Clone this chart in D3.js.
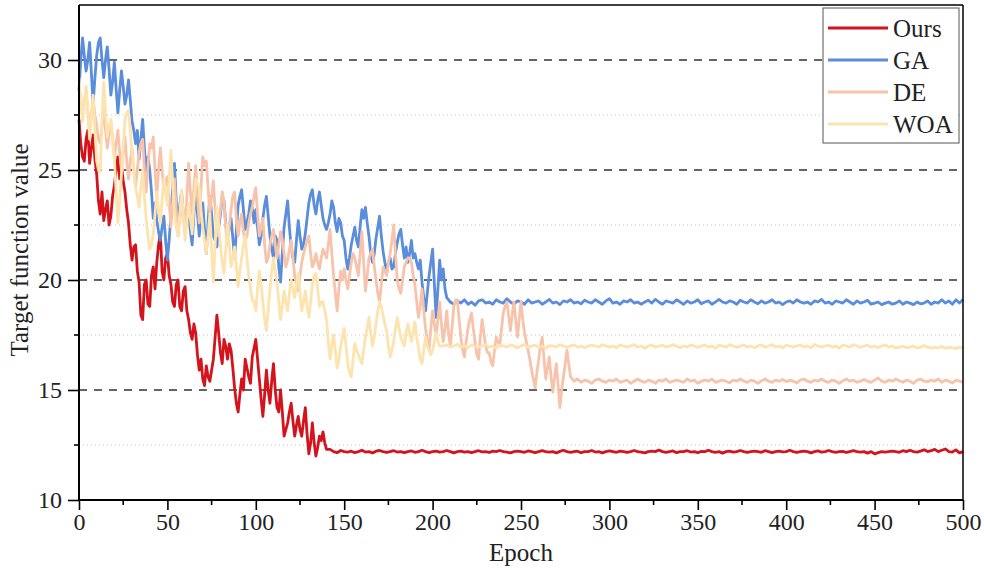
<!DOCTYPE html>
<meta charset="utf-8">
<script src="https://cdn.jsdelivr.net/npm/d3@7"></script>
<style>
  body { margin: 0; background: #fff; }
  text { font-family: "Liberation Serif", "Times New Roman", serif; fill: #222; }
</style>
<body>
<div id="chart"></div>
<script>

// values.
// the noisy part of each run is read every epoch (starting at epoch 0),
// the converged tail every 2 epochs after that, up to epoch 500
var seriesNames = ["Ours", "GA", "DE", "WOA"]
var seriesColors = ["#d4141c", "#5a8ddc", "#f7c3ab", "#fde3ae"]

var oursHead = [27.3,26.2,25.6,25.4,26.4,26.8,25.3,26.0,26.6,25.5,
  24.8,23.6,23.0,24.0,22.7,23.2,23.6,22.5,22.9,23.8,
  24.3,25.0,25.6,24.6,25.2,24.5,24.0,23.2,22.6,21.6,
  20.9,21.5,21.6,20.4,19.9,18.4,18.2,19.8,20.0,18.9,
  18.8,20.2,20.6,19.6,20.8,21.6,22.1,20.4,20.0,21.0,
  21.2,20.2,19.8,19.0,18.8,19.8,20.0,18.8,18.6,19.5,
  19.7,18.6,18.2,17.6,17.3,18.0,17.6,16.6,15.9,16.4,
  15.5,15.2,16.1,15.6,15.4,15.9,16.4,17.4,18.4,17.6,
  16.7,16.2,17.3,17.0,16.4,17.1,16.8,16.0,15.1,14.4,
  14.0,14.8,15.5,15.0,16.4,16.0,15.6,15.3,16.5,16.9,
  17.3,16.4,15.5,14.6,13.8,14.8,15.9,15.0,14.4,15.4,
  16.2,15.0,14.2,14.0,15.0,14.0,12.9,13.2,13.5,14.0,
  14.4,13.6,12.9,13.4,13.8,13.2,12.9,13.6,14.2,13.0,
  12.1,12.6,13.5,12.6,12.0,12.4,12.9,12.7,13.1,12.6,
  12.3]
var oursTail = [12.3,12.2,12.15,12.25,12.2,12.18,12.22,12.15,12.2,12.26,
  12.18,12.2,12.14,12.22,12.25,12.2,12.16,12.2,12.24,12.18,
  12.2,12.15,12.2,12.23,12.17,12.2,12.26,12.2,12.15,12.2,
  12.22,12.18,12.2,12.25,12.2,12.14,12.2,12.22,12.18,12.2,
  12.15,12.2,12.24,12.19,12.2,12.16,12.22,12.2,12.25,12.2,
  12.18,12.14,12.2,12.22,12.2,12.17,12.23,12.2,12.15,12.2,
  12.24,12.2,12.18,12.2,12.14,12.21,12.26,12.2,12.17,12.2,
  12.22,12.15,12.2,12.2,12.25,12.18,12.2,12.14,12.2,12.23,
  12.2,12.17,12.22,12.2,12.16,12.2,12.25,12.2,12.18,12.14,
  12.2,12.22,12.2,12.27,12.2,12.17,12.2,12.23,12.15,12.2,
  12.2,12.24,12.18,12.2,12.15,12.21,12.2,12.26,12.2,12.17,
  12.2,12.13,12.2,12.22,12.18,12.2,12.25,12.2,12.16,12.2,
  12.22,12.2,12.17,12.24,12.2,12.15,12.2,12.22,12.19,12.2,
  12.26,12.2,12.16,12.2,12.22,12.2,12.14,12.2,12.23,12.18,
  12.2,12.25,12.2,12.17,12.2,12.21,12.16,12.2,12.24,12.2,
  12.18,12.2,12.13,12.2,12.1,12.15,12.2,12.18,12.2,12.22,
  12.2,12.17,12.24,12.2,12.26,12.2,12.18,12.22,12.28,12.2,
  12.24,12.3,12.2,12.26,12.32,12.2,12.18,12.28,12.14,12.2]

var gaHead = [28.6,30.0,31.0,30.2,29.5,30.0,30.8,29.4,28.0,29.2,
  30.2,30.8,31.0,30.0,29.2,30.0,30.6,29.6,28.4,29.0,
  29.9,28.7,27.6,28.6,29.5,28.8,28.0,28.4,29.1,28.2,
  27.2,26.8,26.2,26.8,25.5,26.4,27.3,26.0,24.8,25.6,
  25.0,24.0,22.8,23.5,22.7,22.2,21.8,22.4,22.9,21.8,
  20.9,21.8,23.0,24.2,25.3,23.6,22.4,23.4,24.0,23.0,
  22.4,22.9,23.2,22.2,21.6,23.0,24.2,23.0,22.0,22.8,
  23.5,22.3,21.2,22.6,23.8,23.0,22.0,21.8,21.5,22.4,
  23.0,23.8,23.6,22.6,21.8,22.4,22.8,21.9,21.0,22.2,
  23.4,23.8,24.1,23.2,22.3,22.6,23.0,23.6,23.3,22.6,
  23.2,22.4,21.6,22.0,22.8,23.4,23.8,22.9,22.0,21.4,
  21.0,22.0,21.8,20.6,19.9,21.2,22.4,23.0,23.6,22.4,
  21.5,21.0,20.8,21.8,22.7,22.0,21.4,21.6,22.1,22.8,
  23.5,23.9,24.1,23.4,23.0,23.6,24.0,23.4,22.8,22.5,
  22.3,22.6,23.0,23.6,23.3,22.6,22.2,22.8,22.6,22.0,
  21.8,21.0,20.5,21.0,21.6,22.0,22.4,21.8,21.5,22.4,
  23.2,22.8,23.3,22.6,22.0,21.2,20.8,21.2,21.9,22.4,
  22.9,22.0,21.3,20.8,20.3,20.8,21.0,20.5,20.6,21.2,
  21.7,22.1,22.3,21.6,21.0,21.5,20.8,21.2,21.8,21.0,
  21.2,20.8,20.5,20.9,19.9,19.2,18.6,19.4,20.2,20.8,
  21.4,19.8,18.3,19.6,20.9,20.0,20.5,19.6,19.2]
var gaTail = [19.0,18.9,19.05,18.95,19.1,18.9,19.0,18.85,19.05,19.1,
  18.95,19.0,18.9,19.1,19.0,18.95,19.15,19.0,18.9,19.05,
  19.0,18.9,19.1,18.95,19.0,19.05,18.9,19.0,19.12,18.95,
  19.0,18.88,19.05,19.0,19.1,18.95,19.0,18.92,19.08,19.0,
  18.95,19.1,19.0,18.9,19.05,19.15,18.95,19.0,18.9,19.05,
  19.0,19.1,18.95,19.0,18.9,19.0,19.08,18.95,19.12,19.0,
  18.9,19.05,19.0,18.95,19.1,19.0,18.9,19.05,18.95,19.0,
  19.1,18.92,19.0,19.05,18.9,19.0,19.12,19.0,18.95,19.05,
  19.0,18.9,19.08,19.0,18.95,19.1,19.0,18.92,19.05,18.95,
  19.0,19.1,18.95,19.0,18.88,19.0,19.05,18.95,19.1,19.0,
  18.95,19.0,18.9,19.05,19.0,19.12,18.95,19.0,18.9,19.05,
  19.0,18.95,19.1,19.0,18.9,19.05,18.95,19.0,19.08,18.9,
  18.95,19.0,18.88,18.95,19.0,18.9,18.95,19.05,18.9,19.0,
  18.95,18.88,19.0,18.92,18.95,19.05,18.9,19.0,18.95,19.1,
  18.95,19.05,18.9,19.1,18.95,19.12]

var deHead = [28.8,28.0,27.5,28.2,28.6,27.6,26.8,27.6,28.2,27.5,
  27.0,26.4,26.2,27.0,27.8,26.8,26.0,26.6,27.2,26.4,
  25.6,26.2,26.8,25.8,25.0,25.8,26.5,25.4,24.6,25.4,
  26.0,25.0,24.2,25.0,25.8,26.2,26.4,25.0,24.0,25.2,
  26.2,26.0,26.5,25.0,23.8,25.0,26.0,25.0,24.0,24.5,
  24.7,23.6,22.4,23.6,24.6,23.2,22.0,22.8,23.6,22.8,
  22.2,23.8,25.3,24.0,23.0,24.2,25.2,23.8,22.6,24.2,
  25.6,25.2,25.4,24.2,23.0,23.8,24.5,23.2,22.0,22.6,
  23.2,24.0,23.6,22.4,21.6,22.4,23.2,23.8,24.0,22.8,
  22.0,22.6,23.0,22.2,21.8,22.0,22.6,23.0,23.3,23.8,
  24.2,23.0,22.0,22.4,22.8,21.6,20.8,21.0,21.6,22.0,
  22.3,21.6,21.0,21.6,22.2,21.8,21.2,20.6,20.9,21.4,
  21.8,21.0,20.2,19.8,19.5,20.2,20.8,21.2,21.5,21.8,
  22.0,21.2,20.6,20.8,21.2,20.8,20.5,21.0,21.4,21.2,
  21.0,21.6,22.3,21.2,20.2,19.4,18.6,19.6,20.4,20.0,
  20.5,20.0,19.6,20.2,20.8,21.2,21.0,20.6,20.2,21.2,
  22.2,20.8,19.5,20.2,21.0,21.2,21.4,20.6,20.0,19.4,
  19.0,19.8,20.6,20.4,20.2,20.8,21.2,21.8,22.5,21.2,
  20.0,19.6,19.4,20.0,20.6,20.8,21.0,21.0,20.8,20.2,
  19.8,19.0,18.3,18.8,19.6,18.6,17.8,17.2,16.8,17.8,
  18.6,18.0,17.5,18.2,19.0,18.0,17.2,17.8,18.6,17.6,
  17.0,17.8,18.8,19.1,19.1,18.2,17.4,16.8,16.5,17.2,
  17.8,18.2,18.5,17.8,17.2,16.6,16.4,17.4,18.2,17.6,
  17.0,16.7,16.7,16.3,16.1,16.8,17.4,17.2,17.0,17.8,
  18.5,18.8,19.0,18.4,17.7,18.4,19.0,18.2,17.4,18.2,
  19.0,18.2,17.6,17.2,16.8,16.4,15.9,15.5,15.1,15.8,
  16.4,17.0,17.4,16.4,15.5,16.0,16.5,15.6,14.9,15.6,
  16.2,15.2,14.2,15.0,15.6,16.2,16.8,16.2,15.6]
var deTail = [15.4,15.5,15.35,15.45,15.4,15.3,15.45,15.5,15.4,15.35,
  15.45,15.4,15.5,15.35,15.4,15.45,15.3,15.4,15.5,15.4,
  15.35,15.45,15.4,15.3,15.45,15.4,15.5,15.35,15.4,15.45,
  15.4,15.35,15.5,15.4,15.45,15.3,15.4,15.45,15.4,15.5,
  15.35,15.4,15.45,15.4,15.32,15.45,15.4,15.5,15.4,15.35,
  15.45,15.4,15.3,15.42,15.5,15.4,15.35,15.45,15.4,15.48,
  15.38,15.45,15.4,15.32,15.45,15.5,15.4,15.35,15.45,15.4,
  15.5,15.4,15.35,15.45,15.4,15.3,15.42,15.5,15.4,15.45,
  15.35,15.4,15.48,15.4,15.35,15.45,15.55,15.4,15.35,15.45,
  15.4,15.5,15.42,15.35,15.45,15.4,15.3,15.45,15.5,15.4,
  15.38,15.45,15.4,15.5,15.35,15.45,15.4,15.32,15.45,15.4,
  15.35]

var woaHead = [29.2,28.2,27.2,28.0,28.8,27.6,26.4,27.4,28.4,26.8,
  25.4,25.0,24.9,27.2,29.0,27.6,26.5,27.0,27.3,26.4,
  25.5,24.0,22.6,23.6,24.8,26.0,27.3,27.6,27.7,26.8,
  25.8,25.0,24.2,23.8,23.3,24.2,25.0,23.8,22.8,22.0,
  21.4,21.6,22.1,23.0,24.0,23.2,22.6,23.6,24.6,24.0,
  23.4,24.6,25.9,24.4,23.0,22.4,22.0,23.0,24.1,23.0,
  21.8,22.6,23.5,22.8,22.1,23.4,24.6,24.4,24.2,23.2,
  22.4,21.8,21.2,22.0,23.0,21.4,19.9,21.6,23.3,22.4,
  21.6,20.8,20.3,21.4,22.5,21.6,20.6,21.0,21.5,20.6,
  19.7,20.4,21.0,21.6,22.0,21.0,20.2,19.6,19.1,19.0,
  18.6,19.6,20.4,19.8,19.0,18.2,17.7,18.6,19.6,20.4,
  21.0,20.4,19.9,19.0,18.2,18.8,19.5,19.0,18.6,19.4,
  20.0,19.6,19.2,19.8,20.3,19.4,18.6,19.0,19.5,18.8,
  18.3,19.0,19.8,20.2,20.3,19.6,18.8,19.0,19.0,18.6,
  18.2,17.2,16.4,17.0,17.5,16.8,16.0,16.4,17.0,17.4,
  17.8,17.0,16.2,15.8,15.6,16.4,17.1,16.8,16.6,16.4,
  16.2,16.8,17.4,17.8,18.3,17.6,17.0,17.4,18.0,18.6,
  19.0,18.8,18.4,18.0,17.7,17.0,16.5,16.8,17.2,17.8,
  18.3,17.8,17.4,17.2,17.0,17.6,18.0,17.6,17.2,17.6,
  18.1,17.4,16.9,16.4,16.2,16.8,17.4,17.0,16.8,16.6,
  16.8,17.2,17.6,17.2,17.0]
var woaTail = [17.0,17.05,16.95,17.0,17.08,16.95,17.0,16.92,17.05,17.0,
  16.95,17.0,17.06,16.95,17.0,16.9,17.05,17.0,16.95,17.05,
  17.0,16.92,17.0,17.06,16.95,17.0,17.04,16.95,17.0,16.9,
  17.02,17.0,16.95,17.06,17.0,16.94,17.0,17.05,16.95,17.0,
  16.92,17.0,17.04,17.0,16.95,17.06,17.0,16.95,17.0,16.92,
  17.05,17.0,16.95,17.0,17.06,16.95,17.0,16.9,17.0,17.05,
  16.95,17.0,17.04,16.95,17.0,17.06,17.0,16.92,17.0,16.95,
  17.05,17.0,16.94,17.0,17.05,16.95,17.0,16.9,17.04,17.0,
  16.95,17.06,17.0,16.94,17.0,17.05,16.95,17.0,16.92,17.0,
  17.05,16.95,17.0,17.06,16.95,17.0,16.92,17.04,17.0,16.95,
  17.0,17.05,16.95,17.0,16.92,17.06,17.0,16.95,17.0,17.04,
  16.95,17.0,16.9,17.05,17.0,16.95,17.06,17.0,16.94,17.0,
  17.04,16.95,17.0,16.92,17.0,17.05,16.95,17.0,16.9,16.95,
  17.0,16.92,16.95,17.0,16.9,16.95,17.02,16.95,16.9,16.95,
  16.92,16.98,16.9,16.95,16.92,16.88,16.95,16.92]

var xTicks = [0, 50, 100, 150, 200, 250, 300, 350, 400, 450, 500]
var xMinor = [25, 75, 125, 175, 225, 275, 325, 375, 425, 475]
var yTicks = [10, 15, 20, 25, 30]
var yMinor = [12.5, 17.5, 22.5, 27.5]

// head point i sits at epoch i, tail point j at 2 epochs per step after the head
function toPoints(head, tail) {
  var pts = head.map(function(v, i) { return [i, v] })
  var last = head.length - 1
  tail.forEach(function(v, j) { pts.push([last + 2 * (j + 1), v]) })
  return pts
}

var allData = [toPoints(oursHead, oursTail), toPoints(gaHead, gaTail),
               toPoints(deHead, deTail), toPoints(woaHead, woaTail)]

var W = 984, H = 570
var margin = {top: 5, right: 21, bottom: 70, left: 79}
var width = W - margin.left - margin.right
var height = H - margin.top - margin.bottom

var svg = d3.select("#chart").append("svg")
  .attr("width", W).attr("height", H)
var g = svg.append("g")
  .attr("transform", "translate(" + margin.left + "," + margin.top + ")")

var x = d3.scaleLinear().domain([0, 500]).range([0, width])
var y = d3.scaleLinear().domain([10, 32.5]).range([height, 0])

// grid
g.selectAll(".minorGrid").data(yMinor).enter().append("line")
  .attr("x1", 0).attr("x2", width)
  .attr("y1", function(d) { return y(d) }).attr("y2", function(d) { return y(d) })
  .attr("stroke", "#c8c8c8").attr("stroke-width", 1)
  .attr("stroke-dasharray", "1,3")
g.selectAll(".majorGrid").data(yTicks.slice(1)).enter().append("line")
  .attr("x1", 0).attr("x2", width)
  .attr("y1", function(d) { return y(d) }).attr("y2", function(d) { return y(d) })
  .attr("stroke", "#333").attr("stroke-width", 1.6)
  .attr("stroke-dasharray", "8,7")

// lines in legend order, Ours at the bottom and WOA on top
var line = d3.line()
  .x(function(d) { return x(d[0]) })
  .y(function(d) { return y(d[1]) })

for (var k = 0; k < allData.length; k++) {
  g.append("path")
    .datum(allData[k])
    .attr("fill", "none")
    .attr("stroke", seriesColors[k])
    .attr("stroke-width", 2.8)
    .attr("stroke-linejoin", "round")
    .attr("d", line)
}

// axes
var xAxis = g.append("g")
  .attr("transform", "translate(0," + height + ")")
  .call(d3.axisBottom(x).tickValues(xTicks).tickSize(10).tickPadding(3))
xAxis.append("g").selectAll("line").data(xMinor).enter().append("line")
  .attr("x1", function(d) { return x(d) }).attr("x2", function(d) { return x(d) })
  .attr("y1", 0).attr("y2", 5).attr("stroke", "#000").attr("stroke-width", 1.6)

var yAxis = g.append("g")
  .call(d3.axisLeft(y).tickValues(yTicks).tickSize(11).tickPadding(6))
yAxis.append("g").selectAll("line").data(yMinor).enter().append("line")
  .attr("y1", function(d) { return y(d) }).attr("y2", function(d) { return y(d) })
  .attr("x1", 0).attr("x2", -5).attr("stroke", "#000").attr("stroke-width", 1.6)

svg.selectAll(".tick line").attr("stroke-width", 1.6)
svg.selectAll(".domain").remove()
svg.selectAll(".tick text")
  .style("font-family", "Liberation Serif")
  .style("font-size", "24px")
  .attr("fill", "#222")

// frame
g.append("line").attr("x1", 0).attr("x2", width).attr("y1", 0).attr("y2", 0)
  .attr("stroke", "#000").attr("stroke-width", 1.5)
g.append("line").attr("x1", width).attr("x2", width).attr("y1", 0).attr("y2", height)
  .attr("stroke", "#000").attr("stroke-width", 1.5)
g.append("line").attr("x1", 0).attr("x2", 0).attr("y1", 0).attr("y2", height + 0.8)
  .attr("stroke", "#000").attr("stroke-width", 2)
g.append("line").attr("x1", 0).attr("x2", width).attr("y1", height).attr("y2", height)
  .attr("stroke", "#000").attr("stroke-width", 2)

// axis titles
svg.append("text")
  .attr("x", 521)
  .attr("y", 561)
  .attr("text-anchor", "middle")
  .style("font-size", "25px")
  .text("Epoch")
svg.append("text")
  .attr("transform", "translate(28," + 250 + ") rotate(-90)")
  .attr("text-anchor", "middle")
  .style("font-size", "25px")
  .text("Target function value")

// legend
var legend = svg.append("g").attr("transform", "translate(823,8)")
legend.append("rect")
  .attr("width", 136).attr("height", 135)
  .attr("fill", "#fff").attr("stroke", "#555").attr("stroke-width", 1)
for (var i = 0; i < seriesNames.length; i++) {
  legend.append("line")
    .attr("x1", 5).attr("x2", 65)
    .attr("y1", 20 + i * 32).attr("y2", 20 + i * 32)
    .attr("stroke", seriesColors[i]).attr("stroke-width", 3)
  legend.append("text")
    .attr("x", 70).attr("y", 29 + i * 32)
    .style("font-size", "25px")
    .text(seriesNames[i])
}

</script>
</body>
